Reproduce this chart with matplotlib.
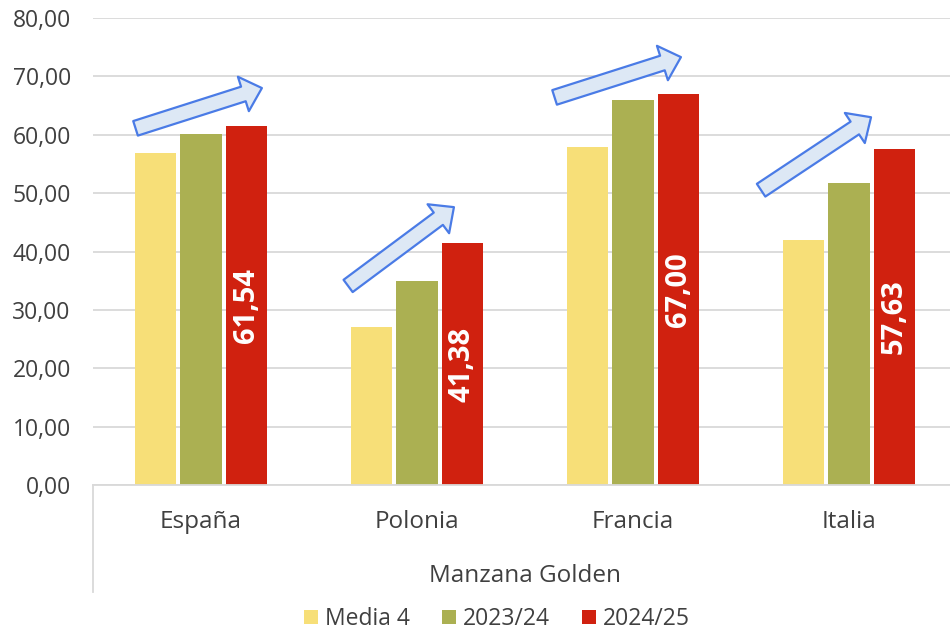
import numpy as np
import matplotlib.pyplot as plt
from matplotlib.patches import FancyArrowPatch, Patch
from matplotlib.lines import Line2D
import matplotlib.transforms as mtransforms

# === DATA ===
countries = ['España', 'Polonia', 'Francia', 'Italia']
series = ['Media 4', '2023/24', '2024/25']
media4 = [56.85, 27.05, 57.9, 41.95]
y2023 = [60.05, 34.95, 65.95, 51.7]
y2024 = [61.54, 41.38, 67.00, 57.63]
group_label = 'Manzana Golden'
yticks = [0, 10, 20, 30, 40, 50, 60, 70, 80]

# trend arrows (annotation shapes): tail/tip as offset from category, value
arrow_tail_dx = [-0.303, -0.319, -0.363, -0.407]
arrow_tail_y = [61.1, 34.1, 66.4, 50.5]
arrow_tip_dx = [0.282, 0.171, 0.222, 0.102]
arrow_tip_y = [68.0, 47.6, 73.3, 63.0]

colors = ['#F7DF78', '#ABB052', '#D0210F']
text_col = '#404040'
grid_col = '#D9D9D9'

# === MATPLOTLIB CONFIG ===
plt.rcParams.update({
    "font.family": ["Open Sans", "DejaVu Sans"],
    "font.size": 16.5,
})

fig = plt.figure(figsize=(9.5, 6.33), dpi=100)
W, H = 950, 633
ax = fig.add_axes([93 / W, (H - 485) / H, (W - 93) / W, (485 - 18) / H])

x = np.arange(len(countries))
width = 0.19
offset = 0.21
for i, (vals, col) in enumerate(zip([media4, y2023, y2024], colors)):
    ax.bar(x + (i - 1) * offset, vals, width, color=col, zorder=2)

# value labels on last series
for xi, v in zip(x, y2024):
    ax.text(xi + offset, v / 2, f"{v:.2f}".replace('.', ','), rotation=90,
            ha='center', va='center', color='white', fontsize=21,
            fontweight='bold', zorder=3)

# arrows
for xi, tdx, ty, hdx, hy in zip(x, arrow_tail_dx, arrow_tail_y, arrow_tip_dx, arrow_tip_y):
    arr = FancyArrowPatch((xi + tdx, ty), (xi + hdx, hy),
                          arrowstyle='simple,head_length=14,head_width=26,tail_width=11',
                          mutation_scale=1, shrinkA=0, shrinkB=0,
                          facecolor='#DDE8F5', edgecolor='#4A7BE6', linewidth=1.6,
                          zorder=4)
    ax.add_patch(arr)

ax.set_xlim(-0.5, (W - 201) / 216)
ax.set_ylim(0, 80)
ax.set_yticks(yticks)
ax.set_yticklabels([f"{t:.2f}".replace('.', ',') for t in yticks], color=text_col)
ax.set_xticks(x)
ax.set_xticklabels(countries, color=text_col, fontsize=17.5)
ax.tick_params(axis='both', length=0)
ax.tick_params(axis='y', pad=16)
ax.tick_params(axis='x', pad=18)
ax.yaxis.grid(True, color=grid_col, linewidth=1.3, zorder=0)
ax.set_axisbelow(True)
for s in ['left', 'right', 'top']:
    ax.spines[s].set_visible(False)
ax.spines['bottom'].set_color(grid_col)
ax.spines['bottom'].set_linewidth(1.3)

# group label and separator
trans = mtransforms.blended_transform_factory(ax.transData, fig.transFigure)
ax.text(1.5, (H - 576) / H, group_label, transform=trans, ha='center', va='center',
        color=text_col, fontsize=17.5)
fig.add_artist(Line2D([93 / W, 93 / W], [(H - 485) / H, (H - 592) / H],
                      transform=fig.transFigure, color=grid_col, linewidth=1.3))

# legend
handles = [Patch(facecolor=c, edgecolor='none') for c in colors]
fig.legend(handles, series, loc='center', bbox_to_anchor=(497 / W, (H - 619) / H),
           ncol=3, frameon=False, handlelength=0.62, handleheight=0.62,
           handletextpad=0.3, columnspacing=1.4, labelcolor=text_col)

fig.savefig('out.png', dpi=100)
